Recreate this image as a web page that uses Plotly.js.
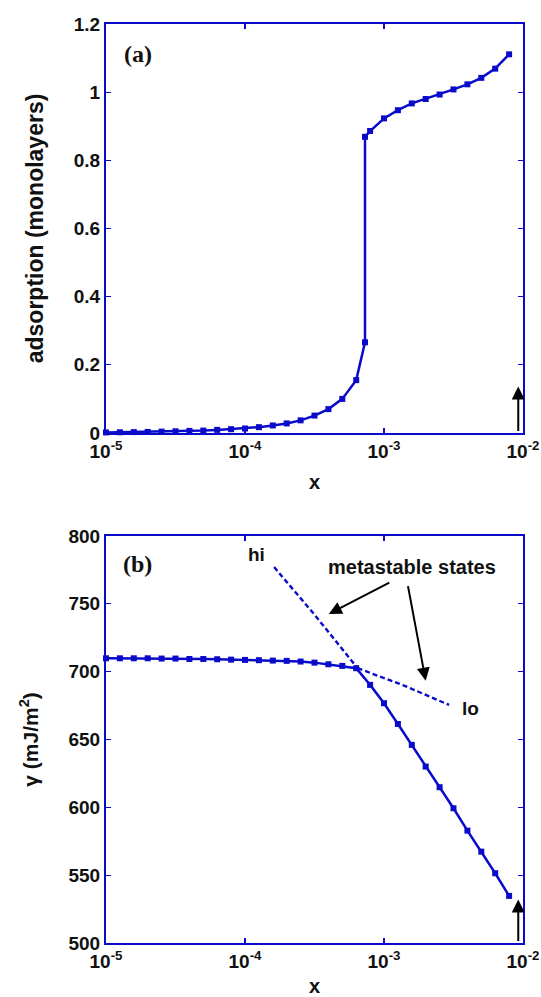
<!DOCTYPE html>
<html>
<head>
<meta charset="utf-8">
<script src="https://cdn.plot.ly/plotly-3.0.1.min.js"></script>
<style>html,body{margin:0;padding:0;background:#fff;}#chart{width:541px;height:997px;}</style>
</head>
<body>
<div id="chart"></div>
<script>
// ---- data ----
const xA = [1.000e-5, 1.259e-5, 1.585e-5, 1.995e-5, 2.512e-5, 3.162e-5, 3.981e-5, 5.012e-5, 6.310e-5, 7.943e-5,
            1.000e-4, 1.259e-4, 1.585e-4, 1.995e-4, 2.512e-4, 3.162e-4, 3.981e-4, 5.012e-4, 6.310e-4, 7.30e-4,
            7.30e-4, 7.943e-4, 1.000e-3, 1.259e-3, 1.585e-3, 1.995e-3, 2.512e-3, 3.162e-3, 3.981e-3, 5.012e-3,
            6.310e-3, 7.943e-3];
const adsorption = [0.0015, 0.002, 0.0025, 0.003, 0.004, 0.005, 0.006, 0.007, 0.009, 0.011,
                    0.013, 0.017, 0.022, 0.028, 0.037, 0.051, 0.070, 0.100, 0.155, 0.266,
                    0.869, 0.886, 0.923, 0.947, 0.967, 0.980, 0.993, 1.008, 1.023, 1.042,
                    1.069, 1.111];

const xB = [1.000e-5, 1.259e-5, 1.585e-5, 1.995e-5, 2.512e-5, 3.162e-5, 3.981e-5, 5.012e-5, 6.310e-5, 7.943e-5,
            1.000e-4, 1.259e-4, 1.585e-4, 1.995e-4, 2.512e-4, 3.162e-4, 3.981e-4, 5.012e-4, 6.310e-4, 7.943e-4,
            1.000e-3, 1.259e-3, 1.585e-3, 1.995e-3, 2.512e-3, 3.162e-3, 3.981e-3, 5.012e-3, 6.310e-3, 7.943e-3];
const gamma = [709.8, 709.8, 709.8, 709.8, 709.6, 709.6, 709.3, 709.3, 709.1, 708.8,
               708.6, 708.4, 708.1, 707.9, 707.4, 706.6, 705.4, 704.2, 702.5, 690.2,
               676.7, 661.4, 646.0, 630.0, 614.8, 599.3, 582.8, 567.3, 551.4, 534.7];

const xHi = [1.62e-4, 3.16e-4, 6.46e-4];
const gammaHi = [777, 742, 702.5];
const xLo = [6.46e-4, 1.41e-3, 2.94e-3];
const gammaLo = [702.5, 689.5, 675.4];

const xTickVals = [1e-5, 1e-4, 1e-3, 1e-2];
const xTickText = ['10<sup>-5</sup>', '10<sup>-4</sup>', '10<sup>-3</sup>', '10<sup>-2</sup>'];
const yTickValsA = [0, 0.2, 0.4, 0.6, 0.8, 1, 1.2];
const yTickTextA = ['0', '0.2', '0.4', '0.6', '0.8', '1', '1.2'];
const yTickValsB = [500, 550, 600, 650, 700, 750, 800];

// ---- styling ----
const BLUE = '#0a0acb';
const SANS = 'Liberation Sans, Arial, Helvetica, sans-serif';
const tickFont = {family: SANS, size: 19, weight: 'bold', color: '#111'};

function xAxis(anchor) {
  return {
    type: 'log', range: [-5, -2], anchor: anchor,
    tickvals: xTickVals, ticktext: xTickText, tickfont: tickFont,
    ticks: 'inside', ticklen: 5, tickwidth: 1.2, tickcolor: BLUE,
    showline: true, linecolor: BLUE, linewidth: 2, mirror: 'ticks',
    showgrid: false, zeroline: false,
    title: {text: 'x', font: {family: SANS, size: 20, weight: 'bold', color: '#111'}, standoff: 14}
  };
}
function yAxis(anchor, domain, range, vals, text, title, size, standoff) {
  const ax = {
    domain: domain, range: range, anchor: anchor,
    tickvals: vals, tickfont: tickFont,
    ticks: 'inside', ticklen: 5, tickwidth: 1.2, tickcolor: BLUE,
    showline: true, linecolor: BLUE, linewidth: 2, mirror: 'ticks',
    showgrid: false, zeroline: false,
    title: {text: title, font: {family: SANS, size: size, weight: 'bold', color: '#111'}, standoff: standoff}
  };
  if (text) ax.ticktext = text;
  return ax;
}

const traces = [
  {x: xA, y: adsorption, xaxis: 'x', yaxis: 'y', mode: 'lines+markers', cliponaxis: false,
   line: {color: BLUE, width: 2.5}, marker: {symbol: 'square', size: 6, color: BLUE}},
  {x: xB, y: gamma, xaxis: 'x2', yaxis: 'y2', mode: 'lines+markers', cliponaxis: false,
   line: {color: BLUE, width: 2.5}, marker: {symbol: 'square', size: 6, color: BLUE}},
  {x: xHi, y: gammaHi, xaxis: 'x2', yaxis: 'y2', mode: 'lines',
   line: {color: BLUE, width: 2.4, dash: '5px,3px'}},
  {x: xLo, y: gammaLo, xaxis: 'x2', yaxis: 'y2', mode: 'lines',
   line: {color: BLUE, width: 2.4, dash: '5px,3px'}}
];

const txt = (size, fam) => ({family: fam || SANS, size: size, weight: 'bold', color: '#111'});

const layout = {
  width: 541, height: 997,
  margin: {l: 106, r: 18, t: 24, b: 54},
  paper_bgcolor: '#fff', plot_bgcolor: '#fff',
  showlegend: false,
  xaxis: xAxis('y'),
  yaxis: yAxis('x', [0.555, 1], [0, 1.2], yTickValsA, yTickTextA, 'adsorption (monolayers)', 23, 24),
  xaxis2: xAxis('y2'),
  yaxis2: yAxis('x2', [0, 0.443], [500, 800], yTickValsB, null, 'γ (mJ/m<sup>2</sup>)', 21, 24),
  annotations: [
    {xref: 'x', yref: 'y', x: -4.77, y: 1.112, text: '(a)', showarrow: false, font: txt(24, 'Liberation Serif, Times New Roman, serif')},
    {xref: 'x2', yref: 'y2', x: -4.77, y: 779, text: '(b)', showarrow: false, font: txt(24, 'Liberation Serif, Times New Roman, serif')},
    {xref: 'x2', yref: 'y2', x: -3.918, y: 786, text: 'hi', showarrow: false, font: txt(19)},
    {xref: 'x2', yref: 'y2', x: -2.796, y: 777.4, text: 'metastable states', showarrow: false, font: txt(20)},
    {xref: 'x2', yref: 'y2', x: -2.376, y: 673, text: 'lo', showarrow: false, font: txt(19)},
    {xref: 'x2', yref: 'y2', x: -3.397, y: 742.5, ax: 62, ay: -32, text: '', showarrow: true,
     arrowhead: 2, arrowsize: 1.3, arrowwidth: 2, arrowcolor: '#000'},
    {xref: 'x2', yref: 'y2', x: -2.70, y: 693.3, ax: -18, ay: -96, text: '', showarrow: true,
     arrowhead: 2, arrowsize: 1.3, arrowwidth: 2, arrowcolor: '#000'},
    {xref: 'x', yref: 'y', x: -2.034, y: 0.136, ax: 0, ay: 46, text: '', showarrow: true,
     arrowhead: 2, arrowsize: 1.3, arrowwidth: 2, arrowcolor: '#000'},
    {xref: 'x2', yref: 'y2', x: -2.034, y: 532, ax: 0, ay: 43, text: '', showarrow: true,
     arrowhead: 2, arrowsize: 1.3, arrowwidth: 2, arrowcolor: '#000'}
  ]
};

Plotly.newPlot('chart', traces, layout, {staticPlot: true, displayModeBar: false});
</script>
</body>
</html>
